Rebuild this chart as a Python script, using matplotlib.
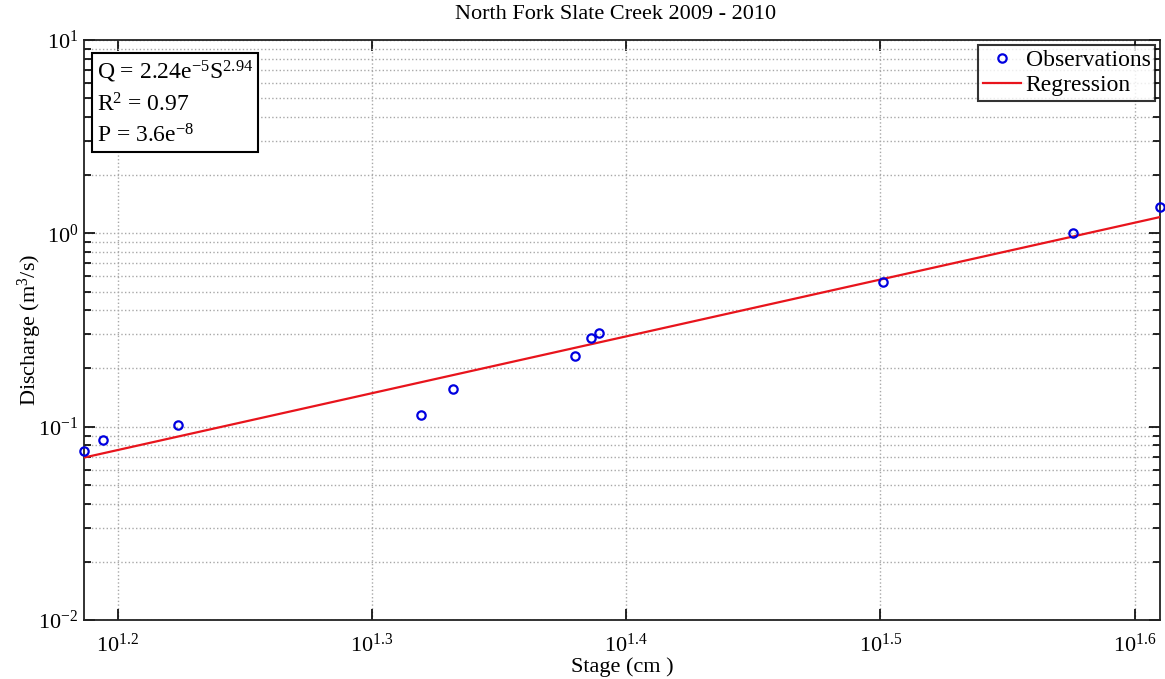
import numpy as np
import matplotlib
matplotlib.use('Agg')
from matplotlib import pyplot as plt
from matplotlib.ticker import FixedLocator, FixedFormatter, LogLocator, NullFormatter, NullLocator

plt.rcParams['font.family'] = ['Liberation Serif', 'DejaVu Serif']
plt.rcParams['mathtext.fontset'] = 'custom'
plt.rcParams['mathtext.rm'] = 'Liberation Serif'
plt.rcParams['mathtext.it'] = 'Liberation Serif:italic'
plt.rcParams['mathtext.default'] = 'rm'

# observations
stage = [15.37, 15.63, 16.73, 20.86, 21.47, 23.99, 24.33, 24.50, 31.70, 37.64, 40.74]
discharge = [0.0749, 0.0854, 0.102, 0.1145, 0.156, 0.233, 0.289, 0.306, 0.560, 0.998, 1.372]

# regression line end points
reg_stage = [15.37, 40.74]
reg_discharge = [0.0692, 1.214]

xtick_exp = [1.2, 1.3, 1.4, 1.5, 1.6]
ytick_exp = [-2, -1, 0, 1]

fig = plt.figure(figsize=(11.65, 6.79), dpi=100)
ax = fig.add_axes([0.0721, 0.0869, 0.9236, 0.8542])

ax.plot(stage, discharge, 'o', mfc='none', mec='#0000e0', ms=6, mew=1.6,
        label='Observations', clip_on=False, zorder=4)
ax.plot(reg_stage, reg_discharge, '-', color='#e8141c', lw=1.6, label='Regression', zorder=3)

ax.set_xscale('log')
ax.set_yscale('log')
ax.set_xlim(min(stage), max(stage))
ax.set_ylim(1e-2, 1e1)

ax.xaxis.set_major_locator(FixedLocator([10 ** e for e in xtick_exp]))
ax.xaxis.set_major_formatter(FixedFormatter(['$10^{%g}$' % e for e in xtick_exp]))
ax.xaxis.set_minor_locator(NullLocator())
ax.yaxis.set_major_locator(FixedLocator([10.0 ** e for e in ytick_exp]))
ax.yaxis.set_major_formatter(FixedFormatter(['$10^{%d}$' % e for e in ytick_exp]))
ax.yaxis.set_minor_locator(LogLocator(base=10, subs=np.arange(2, 10)))
ax.yaxis.set_minor_formatter(NullFormatter())

ax.tick_params(which='both', direction='in', top=True, right=True, labelsize=16, width=1.2)
ax.tick_params(which='major', length=8)
ax.tick_params(axis='x', which='major', pad=10)
ax.tick_params(axis='y', which='major', pad=4)
ax.tick_params(which='minor', length=5)
for s in ax.spines.values():
    s.set_linewidth(1.3)
    s.set_color('#222222')

ax.grid(True, which='major', linestyle=':', color='#a8a8a8', lw=1)
ax.grid(True, which='minor', axis='y', linestyle=':', color='#a8a8a8', lw=1)

fig.text(0.528, 0.979, 'North Fork Slate Creek 2009 - 2010', fontsize=16, ha='center', va='center')
ax.set_xlabel('Stage (cm )', fontsize=16, labelpad=0)
ax.set_ylabel('Discharge (m$^3$/s)', fontsize=16, labelpad=-4)

ax.text(0.012, 0.968, 'Q = 2.24e$^{-5}$S$^{2.94}$\nR$^2$ = 0.97\nP = 3.6e$^{-8}$',
        transform=ax.transAxes, ha='left', va='top', fontsize=17, linespacing=1.45,
        bbox=dict(boxstyle='square,pad=0.2', fc='white', ec='black', lw=1.5), zorder=5)

leg = ax.legend(loc='upper right', fontsize=17, frameon=True, fancybox=False,
                borderaxespad=0.2, handlelength=1.6, handletextpad=0.2,
                borderpad=0.2, labelspacing=0.15)
leg.get_frame().set_edgecolor('black')
leg.get_frame().set_linewidth(1.5)

fig.savefig('out.png', dpi=100)
